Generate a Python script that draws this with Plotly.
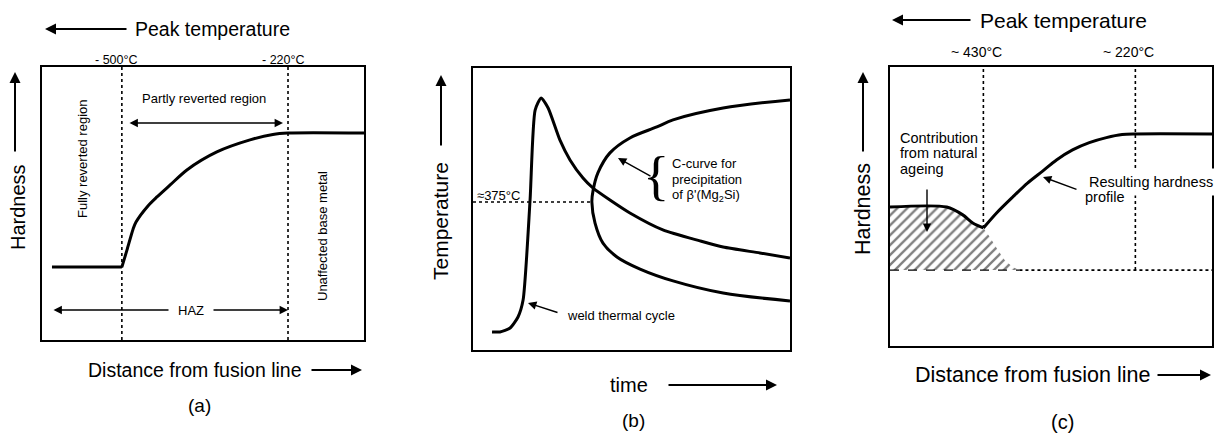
import plotly.graph_objects as go

# ---------------- data (arbitrary 0-100 units inside each frame) ----------------
# (a) hardness across the heat affected zone
a_distance = [3.1, 24.8, 26.4, 28.3, 29.2, 32.9, 35.7, 39.8, 45.0, 54.3, 64.6, 71.7, 76.4, 100.0]
a_hardness = [26.7, 26.7, 33.0, 40.7, 43.2, 49.1, 52.4, 56.8, 62.3, 68.9, 73.3, 75.3, 75.8, 75.8]
a_boundaries = [24.8, 76.4]
a_boundary_labels = ["- 500°C", "- 220°C"]

# (b) weld thermal cycle and C-curve for precipitation
b_cycle_time = [6.0, 8.5, 11.7, 14.2, 15.8, 18.0, 19.6, 21.5, 23.7, 27.4,
                30.6, 34.7, 37.9, 43.2, 49.5, 59.9, 71.6, 78.9, 90.5, 100.0]
b_cycle_temp = [6.4, 6.4, 7.8, 11.7, 17.7, 53.2, 85.1, 89.4, 85.8, 74.5,
                67.4, 61.0, 57.4, 53.2, 48.6, 42.6, 38.7, 36.5, 34.4, 32.6]
b_ccurve_time = [100.0, 78.9, 63.1, 58.0, 49.5, 43.2, 39.4, 37.9, 37.5, 38.5, 41.0, 45.4,
                 52.7, 63.1, 78.9, 100.0]
b_ccurve_temp = [88.7, 85.8, 81.6, 79.1, 75.2, 69.9, 62.8, 56.7, 52.5, 45.0, 37.9, 33.0,
                 28.7, 24.5, 20.2, 17.4]
b_nose_time = 37.5
b_nose_temp = 52.5
b_nose_label = "≈375°C"

# (c) resulting hardness profile and natural ageing contribution
c_distance = [0.0, 17.6, 22.6, 25.7, 29.0, 33.1, 38.1, 42.7, 47.4, 51.7, 56.7, 61.9, 67.2,
              72.1, 76.2, 100.0]
c_hardness = [49.8, 49.8, 47.0, 44.1, 42.3, 47.7, 53.4, 58.4, 62.7, 66.7, 70.3, 72.9, 74.7,
              75.8, 76.0, 76.0]
c_ageing_distance = [0.0, 17.6, 22.6, 25.7, 29.0, 31.0, 33.1, 35.6, 38.1, 40.2]
c_ageing_hardness = [49.8, 49.8, 47.0, 44.1, 42.3, 39.1, 35.1, 30.8, 28.3, 27.2]
c_base_level = 27.2
c_boundaries = [29.0, 76.2]
c_boundary_labels = ["~ 430°C", "~ 220°C"]

# ---------------- page geometry ----------------
W, H = 1214, 434
FONT = "Liberation Sans, Arial, Helvetica, sans-serif"
frames = {  # left, right, top, bottom (pixels)
    "a": (42, 364, 67, 340),
    "b": (473, 790, 68, 350),
    "c": (890, 1212, 67, 346),
}


def px(x):
    return x / W


def py(y):
    return 1 - y / H


fig = go.Figure()
annotations = []

axis_ids = {"a": ("x", "y"), "b": ("x2", "y2"), "c": ("x3", "y3")}


def line(panel, x, y, width=3, dash="solid", shape="linear", smoothing=1.0):
    xa, ya = axis_ids[panel]
    fig.add_trace(go.Scatter(
        x=x, y=y, xaxis=xa, yaxis=ya, mode="lines",
        line=dict(color="black", width=width, dash=dash, shape=shape, smoothing=smoothing),
        hoverinfo="skip", showlegend=False,
    ))


def label(text, x, y, size, angle=0, xanchor="center", family=FONT, **kw):
    annotations.append(dict(
        text=text, x=px(x), y=py(y), xref="paper", yref="paper", showarrow=False,
        font=dict(family=family, size=size, color="black"), textangle=angle,
        xanchor=xanchor, yanchor="middle", **kw))


def arrow(x0, y0, x1, y1, both=False, width=1.4, size=1.2, head=2):
    """Arrow from tail (x0, y0) to head (x1, y1), pixel positions."""
    annotations.append(dict(
        text="", x=px(x1), y=py(y1), xref="paper", yref="paper",
        ax=x0 - x1, ay=y0 - y1, showarrow=True, arrowhead=head, arrowsize=size,
        arrowwidth=width, arrowcolor="black", startarrowhead=head, startarrowsize=size,
        arrowside="end+start" if both else "end", standoff=0, startstandoff=0))


# ---------------- panel (a) ----------------
for xb in a_boundaries:
    line("a", [xb, xb], [0, 100], width=1.6, dash="dot")
line("a", a_distance[:2], a_hardness[:2])
line("a", a_distance[1:], a_hardness[1:], shape="spline", smoothing=0.8)
for xb, txt in zip(a_boundaries, a_boundary_labels):
    annotations.append(dict(text=txt, x=xb, y=py(60), xref="x", yref="paper", showarrow=False,
                            xshift=-5, font=dict(family=FONT, size=12.5, color="black"),
                            xanchor="center", yanchor="middle"))

label("Peak temperature", 133, 29, 19.5, xanchor="left")
arrow(128, 29, 45, 29, width=2, size=1.1)
label("Hardness", 18, 207, 20, angle=-90)
arrow(15, 153, 15, 72, width=2, size=1.1)
label("Distance from fusion line", 86, 370, 19.5, xanchor="left")
arrow(310, 370, 362, 370, width=2, size=1.1)
label("(a)", 200, 405, 19)
label("Partly reverted region", 204, 99, 13)
arrow(128, 123, 283, 123, both=True)
label("Fully reverted region", 82, 159, 13, angle=-90)
label("Unaffected base metal", 322, 236, 13, angle=-90)
arrow(52, 310, 288, 310, both=True)
label("HAZ", 191, 310, 13, bgcolor="white", borderpad=9)

# ---------------- panel (b) ----------------
line("b", [0, b_nose_time], [b_nose_temp, b_nose_temp], width=1.4, dash="dot")
line("b", b_cycle_time, b_cycle_temp, shape="spline", smoothing=0.6)
line("b", b_ccurve_time, b_ccurve_temp, shape="spline", smoothing=0.9)
label(b_nose_label, 475, 195, 13, xanchor="left")

label("Temperature", 441, 221, 21, angle=-90)
arrow(441, 147, 441, 75, width=2, size=1.1)
label("time", 629, 385, 20)
arrow(667, 385, 777, 385, width=2, size=1.1)
label("(b)", 633, 420, 19)
label("{", 656, 175, 55, family="Liberation Serif")
for txt, yy in zip(["C-curve for", "precipitation", "of β'(Mg<sub>2</sub>Si)"], [163, 179, 195]):
    label(txt, 670, yy, 13, xanchor="left")
arrow(652, 177, 618, 158)
label("weld thermal cycle", 565, 315, 13, xanchor="left")
arrow(559, 313, 528, 303)

# ---------------- panel (c) ----------------
for xb in c_boundaries:
    line("c", [xb, xb], [c_base_level, 100], width=1.6, dash="dot")
fig.add_trace(go.Scatter(
    x=c_ageing_distance + [0.0], y=c_ageing_hardness + [c_base_level],
    xaxis="x3", yaxis="y3", mode="lines", fill="toself", fillcolor="rgba(0,0,0,0)",
    fillpattern=dict(shape="/", fgcolor="black", bgcolor="white", size=7, solidity=0.33),
    line=dict(width=0), hoverinfo="skip", showlegend=False,
))
line("c", [0, c_ageing_distance[-1]], [c_base_level, c_base_level], width=1.4, dash="dash")
line("c", [c_ageing_distance[-1], 100], [c_base_level, c_base_level], width=1.6, dash="dot")
i_min = c_hardness.index(min(c_hardness))
line("c", c_distance[:i_min + 1], c_hardness[:i_min + 1], shape="spline", smoothing=0.8)
line("c", c_distance[i_min:], c_hardness[i_min:], shape="spline", smoothing=0.8)
for xb, txt in zip(c_boundaries, c_boundary_labels):
    annotations.append(dict(text=txt, x=xb, y=py(52), xref="x3", yref="paper", showarrow=False,
                            xshift=-7, font=dict(family=FONT, size=14, color="black"),
                            xanchor="center", yanchor="middle"))

label("Peak temperature", 978, 20, 21, xanchor="left")
arrow(972, 20, 892, 20, width=2, size=1.1)
label("Hardness", 863, 209, 21.5, angle=-90)
arrow(863, 153, 863, 72, width=2, size=1.1)
label("Distance from fusion line", 913, 375, 21.5, xanchor="left")
arrow(1156, 375, 1211, 375, width=2, size=1.1)
label("(c)", 1062, 422, 20)
for txt, yy in zip(["Contribution", "from natural", "ageing"], [138, 153, 169]):
    label(txt, 898, yy, 14.5, xanchor="left")
arrow(927, 188, 927, 232)
label("Resulting hardness", 1083, 182, 14.5, xanchor="left", bgcolor="white", borderpad=5)
label("profile", 1083, 197, 14.5, xanchor="left")
arrow(1078, 190, 1043, 177)

# ---------------- axes ----------------
axis_style = dict(range=[0, 100], showgrid=False, zeroline=False, showticklabels=False,
                  ticks="", showline=True, linecolor="black", linewidth=2, mirror=True,
                  fixedrange=True)
layout_axes = {}
for key, (xa, ya) in axis_ids.items():
    l, r, t, b = frames[key]
    xname = "xaxis" + xa[1:]
    yname = "yaxis" + ya[1:]
    layout_axes[xname] = dict(axis_style, domain=[px(l), px(r)], anchor=ya)
    layout_axes[yname] = dict(axis_style, domain=[py(b), py(t)], anchor=xa)

fig.update_layout(
    width=W, height=H, margin=dict(l=0, r=0, t=0, b=0),
    paper_bgcolor="white", plot_bgcolor="white",
    annotations=annotations, showlegend=False,
    **layout_axes,
)

fig.write_html("out.html", config={"displayModeBar": False})
